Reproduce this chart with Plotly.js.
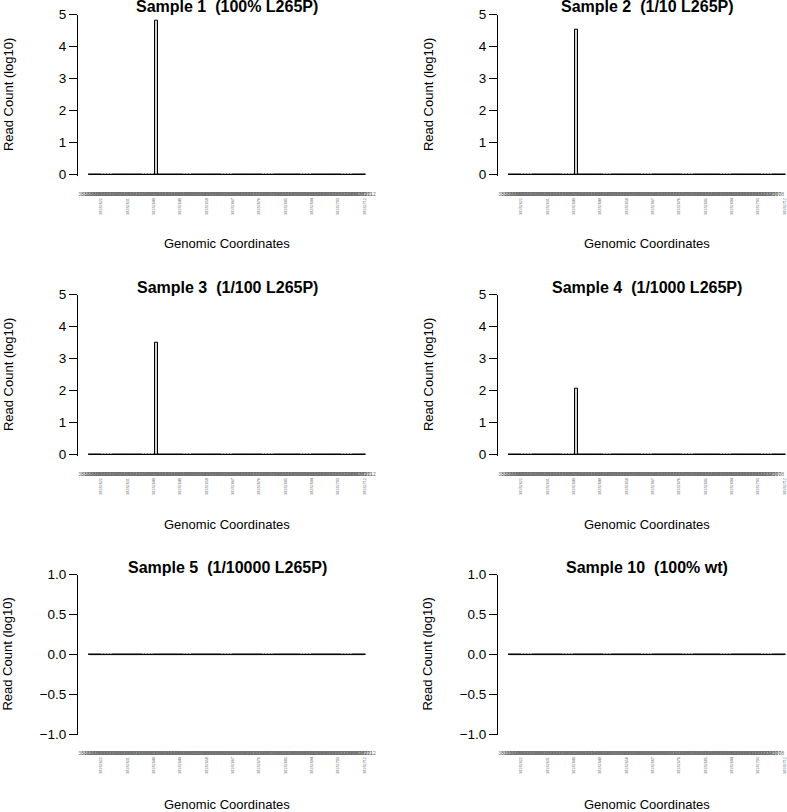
<!DOCTYPE html>
<html>
<head>
<meta charset="utf-8">
<script src="https://cdn.plot.ly/plotly-3.0.1.min.js"></script>
<style>
  html, body { margin: 0; padding: 0; background: #fff; }
  #chart { width: 787px; height: 812px; }
</style>
</head>
<body>
<div id="chart"></div>
<script>
// Геномные координаты (ось X), каждая позиция - отдельный столбик
const coords = [
    38182618, 38182619, 38182620, 38182621, 38182622, 38182623, 38182624, 38182625, 38182626, 38182627,
    38182628, 38182629, 38182630, 38182631, 38182632, 38182633, 38182634, 38182635, 38182636, 38182637,
    38182638, 38182639, 38182640, 38182641, 38182642, 38182643, 38182644, 38182645, 38182646, 38182647,
    38182648, 38182649, 38182650, 38182651, 38182652, 38182653, 38182654, 38182655, 38182656, 38182657,
    38182658, 38182659, 38182660, 38182661, 38182662, 38182663, 38182664, 38182665, 38182666, 38182667,
    38182668, 38182669, 38182670, 38182671, 38182672, 38182673, 38182674, 38182675, 38182676, 38182677,
    38182678, 38182679, 38182680, 38182681, 38182682, 38182683, 38182684, 38182685, 38182686, 38182687,
    38182688, 38182689, 38182690, 38182691, 38182692, 38182693, 38182694, 38182695, 38182696, 38182697,
    38182698, 38182699, 38182700, 38182701, 38182702, 38182703, 38182704, 38182705, 38182706, 38182707,
    38182708, 38182709, 38182710, 38182711, 38182712
];
// Вертикальные подписи (каждая девятая координата)
const labelCoords = [38182622, 38182631, 38182640, 38182649, 38182658, 38182667, 38182676, 38182685, 38182694, 38182703, 38182712];

// Позиция мутации L265P и число прочтений (log10) по образцам
const mutantCoord = 38182641;
const sampleNames = ['Sample 1  (100% L265P)', 'Sample 2  (1/10 L265P)', 'Sample 3  (1/100 L265P)',
                     'Sample 4  (1/1000 L265P)', 'Sample 5  (1/10000 L265P)', 'Sample 10  (100% wt)'];
const mutantReads = [4.80, 4.52, 3.51, 2.07, 0, 0];

const W = 787, H = 812;
const FONT = 'Liberation Sans, Arial, Helvetica, sans-serif';

function px(x) { return x / W; }
function py(y) { return 1 - y / H; }

const data = [];
const layout = {
    width: W,
    height: H,
    margin: { l: 0, r: 0, t: 0, b: 0 },
    paper_bgcolor: '#fff',
    plot_bgcolor: '#fff',
    showlegend: false,
    font: { family: FONT, color: '#000' },
    bargap: 0,
    annotations: []
};

sampleNames.forEach(function(name, i) {
    const col = i % 2;
    const row = Math.floor(i / 2);
    const axisX = col === 0 ? 77 : 497;   // положение оси Y
    const left = axisX + 11, right = left + 278;
    const top = 14.7 + 280 * row;
    const bottom = row < 2 ? top + 160.8 : top + 159.8;

    const counts = coords.map(c => c === mutantCoord ? mutantReads[i] : 0);
    const zeroCoords = coords.filter((c, k) => counts[k] === 0);
    const zeros = zeroCoords.map(() => 0);

    const xa = 2 * i + 1, xb = 2 * i + 2, ya = i + 1;
    const xaId = xa === 1 ? 'x' : 'x' + xa;
    const xbId = 'x' + xb;
    const yaId = ya === 1 ? 'y' : 'y' + ya;
    const xRange = [coords[0] - 0.5, coords[coords.length - 1] + 0.5];

    data.push({
        type: 'bar',
        x: coords,
        y: counts,
        width: 0.9,
        xaxis: xaId,
        yaxis: yaId,
        marker: { color: '#d0d0d0', line: { color: '#000', width: 1 } },
        hoverinfo: 'x+y'
    });
    data.push({
        type: 'scatter',
        mode: 'lines',
        x: zeroCoords,
        y: zeros,
        xaxis: xbId,
        yaxis: yaId,
        line: { color: '#000', width: 1 },
        hoverinfo: 'skip'
    });

    const xDomain = [px(left), px(right)];
    layout[xa === 1 ? 'xaxis' : 'xaxis' + xa] = {
        domain: xDomain,
        anchor: yaId,
        range: xRange,
        showgrid: false,
        zeroline: false,
        showline: false,
        tickmode: 'array',
        tickvals: coords,
        ticktext: coords.map(String),
        tickangle: 0,
        ticks: 'outside',
        ticklen: 13,
        tickcolor: 'rgba(0,0,0,0)',
        tickfont: { family: FONT, size: 5, color: '#707070' }
    };
    layout['xaxis' + xb] = {
        overlaying: xaId,
        anchor: yaId,
        side: 'bottom',
        range: xRange,
        showgrid: false,
        zeroline: false,
        showline: false,
        tickmode: 'array',
        tickvals: labelCoords,
        ticktext: labelCoords.map(String),
        tickangle: -90,
        ticks: 'outside',
        ticklen: 20,
        tickcolor: 'rgba(0,0,0,0)',
        tickfont: { family: FONT, size: 3.8, color: '#707070' }
    };
    layout[ya === 1 ? 'yaxis' : 'yaxis' + ya] = {
        domain: [py(bottom), py(top)],
        anchor: 'free',
        position: px(axisX),
        range: row < 2 ? [-0.03, 5] : [-1, 1],
        tickmode: 'linear',
        tick0: row < 2 ? 0 : -1,
        dtick: row < 2 ? 1 : 0.5,
        tickformat: row < 2 ? 'd' : '.1f',
        showgrid: false,
        zeroline: false,
        showline: true,
        linecolor: '#000',
        linewidth: 1,
        ticks: 'outside',
        ticklen: 8,
        tickwidth: 1,
        tickcolor: '#000',
        tickfont: { family: FONT, size: 13.5, color: '#000' }
    };

    const center = (axisX + axisX + 300) / 2;
    // Заголовок панели
    layout.annotations.push({
        xref: 'paper', yref: 'paper',
        x: px(center), y: py(7 + 280 * row),
        xanchor: 'center', yanchor: 'middle',
        text: '<b>' + name + '</b>',
        showarrow: false,
        font: { family: FONT, size: 16, color: '#000' }
    });
    // Подпись оси Y
    layout.annotations.push({
        xref: 'paper', yref: 'paper',
        x: px(axisX - 69), y: py((top + bottom) / 2),
        xanchor: 'center', yanchor: 'middle',
        textangle: -90,
        text: 'Read Count (log10)',
        showarrow: false,
        font: { family: FONT, size: 13, color: '#000' }
    });
    // Подпись оси X
    layout.annotations.push({
        xref: 'paper', yref: 'paper',
        x: px(center), y: py(244 + 280 * row),
        xanchor: 'center', yanchor: 'middle',
        text: 'Genomic Coordinates',
        showarrow: false,
        font: { family: FONT, size: 13, color: '#000' }
    });
});

Plotly.newPlot('chart', data, layout, { displayModeBar: false, responsive: false });
</script>
</body>
</html>
